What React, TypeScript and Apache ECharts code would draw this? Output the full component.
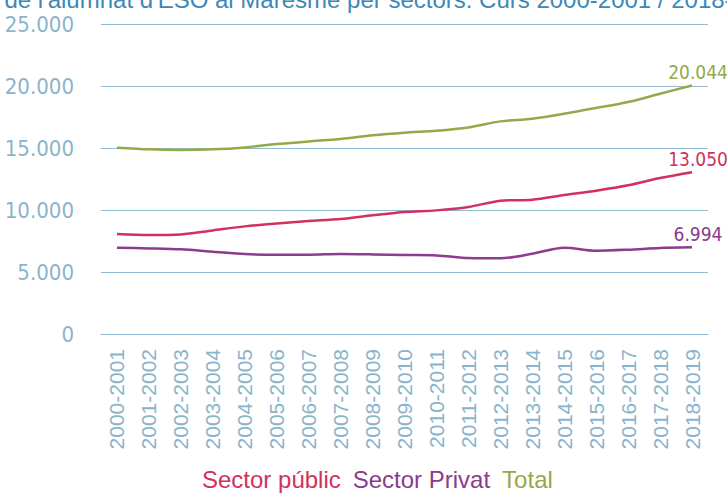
import React, { useEffect, useRef } from "react";
import * as echarts from "echarts";

const categories = [
  "2000-2001", "2001-2002", "2002-2003", "2003-2004", "2004-2005", "2005-2006",
  "2006-2007", "2007-2008", "2008-2009", "2009-2010", "2010-2011", "2011-2012",
  "2012-2013", "2013-2014", "2014-2015", "2015-2016", "2016-2017", "2017-2018", "2018-2019",
];
const sectorPublic = [8065, 7985, 8030, 8355, 8680, 8920, 9110, 9275, 9570, 9840, 9970, 10240, 10750, 10830, 11210, 11560, 11990, 12580, 13050];
const sectorPrivat = [6960, 6905, 6825, 6640, 6450, 6395, 6395, 6450, 6420, 6370, 6340, 6130, 6100, 6475, 6960, 6720, 6800, 6935, 6994];
const total = [15025, 14890, 14840, 14890, 15050, 15320, 15530, 15725, 16020, 16235, 16396, 16662, 17147, 17364, 17767, 18227, 18711, 19380, 20044];
const yTicks = [0, 5000, 10000, 15000, 20000, 25000];
const titleText = "Evolució de l'alumnat d'ESO al Maresme per sectors. Curs 2000-2001 / 2018-2019";

const fmt = (v: number) => String(Math.round(v)).replace(/\B(?=(\d{3})+(?!\d))/g, ".");

const axisColor = "#8ab4cc";
const gridColor = "#90bcd5";
const narrow = "'Liberation Sans Narrow', 'DejaVu Sans Condensed', 'Liberation Sans', sans-serif";
const regular = "'Liberation Sans', Arial, sans-serif";

export default function App() {
  const ref = useRef<HTMLDivElement>(null);
  useEffect(() => {
    document.body.style.margin = "0";
    if (!ref.current) return;
    const chart = echarts.init(ref.current, null, { renderer: "svg" });
    const last = categories.length - 1;
    const mk = (name: string, values: number[], color: string) => ({
      name,
      type: "line",
      smooth: 0.3,
      symbol: "circle",
      symbolSize: 0,
      showSymbol: true,
      lineStyle: { color, width: 2.5 },
      itemStyle: { color },
      data: values.map((v, i) =>
        i === last
          ? {
              value: v,
              label: {
                show: true,
                position: "top",
                offset: [6, 0],
                distance: 4,
                formatter: (p: any) => fmt(p.value),
                color,
                fontFamily: narrow,
                fontSize: 19,
              },
            }
          : v
      ),
    });
    chart.setOption({
      animation: false,
      graphic: [
        {
          type: "text",
          left: -93,
          top: -13,
          style: {
            text: titleText,
            fill: "#3d88b6",
            fontFamily: regular,
            fontSize: 24,
          },
        },
      ],
      legend: {
        top: 462,
        left: 192,
        icon: "none",
        itemWidth: 0,
        itemGap: 7,
        textStyle: { fontFamily: regular, fontSize: 24 },
        data: [
          { name: "Sector públic", textStyle: { color: "#d1315c" } },
          { name: "Sector Privat", textStyle: { color: "#8c3b8e" } },
          { name: "Total", textStyle: { color: "#93a94a" } },
        ],
      },
      grid: { left: 101, right: 19, top: 24, bottom: 161, containLabel: false },
      xAxis: {
        type: "category",
        data: categories,
        boundaryGap: true,
        axisLine: { show: true, lineStyle: { color: gridColor, width: 1 } },
        axisTick: { show: false },
        axisLabel: {
          rotate: 90,
          interval: 0,
          margin: 15,
          color: axisColor,
          fontFamily: regular,
          fontSize: 21,
        },
      },
      yAxis: {
        type: "value",
        min: yTicks[0],
        max: yTicks[yTicks.length - 1],
        interval: 5000,
        axisLine: { show: false },
        axisTick: { show: false },
        splitLine: { lineStyle: { color: gridColor, width: 1 } },
        axisLabel: {
          margin: 27,
          color: axisColor,
          fontFamily: narrow,
          fontSize: 22,
          formatter: (v: number) => fmt(v),
        },
      },
      series: [
        mk("Sector públic", sectorPublic, "#d1315c"),
        mk("Sector Privat", sectorPrivat, "#8c3b8e"),
        mk("Total", total, "#93a94a"),
      ],
    });
    return () => chart.dispose();
  }, []);
  return <div ref={ref} style={{ width: 727, height: 495 }} />;
}
